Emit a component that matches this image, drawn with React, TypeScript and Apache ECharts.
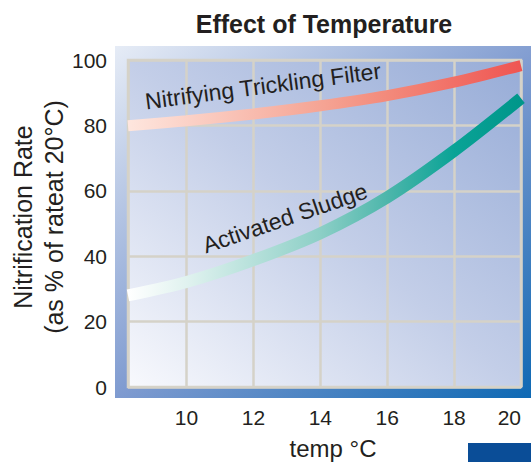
import React, { useEffect, useRef } from "react";
import * as echarts from "echarts";

const xTemps = [8.25, 10, 12, 14, 16, 18, 20];
const tricklingFilter = [79.9, 81.4, 83.5, 86, 89.1, 93.2, 98.3];
const activatedSludge = [28, 32.1, 38.8, 47, 58, 72.2, 88.3];
const yTicks = [0, 20, 40, 60, 80, 100];
const xTicks = [10, 12, 14, 16, 18, 20];

const FONT = '"Liberation Sans", Arial, Helvetica, sans-serif';
const INK = "#231f20";
const GRIDLINE = "#d5d2c8";

export default function App() {
  const ref = useRef<HTMLDivElement>(null);

  useEffect(() => {
    if (!ref.current) return;
    const chart = echarts.init(ref.current, undefined, { renderer: "svg" });
    const LG = echarts.graphic.LinearGradient;

    const option: any = {
      animation: false,
      backgroundColor: "#ffffff",
      grid: {
        left: 128,
        right: 10,
        top: 60,
        bottom: 75,
        containLabel: false,
        outerBoundsMode: "none",
        show: true,
        backgroundColor: new LG(0, 1, 1, 0, [
          { offset: 0, color: "#f8f9fd" },
          { offset: 0.5, color: "#c3cee8" },
          { offset: 1, color: "#97acd7" },
        ]),
        borderColor: GRIDLINE,
        borderWidth: 2.5,
      },
      xAxis: {
        type: "value",
        min: 8.25,
        max: 20,
        splitNumber: 6,
        name: "temp °C",
        nameLocation: "middle",
        nameGap: 49,
        nameTextStyle: {
          fontFamily: FONT,
          fontSize: 24,
          color: INK,
          padding: [0, 0, 0, 17],
        },
        axisLine: { show: false },
        axisTick: { show: false },
        axisLabel: {
          margin: 20,
          fontFamily: FONT,
          fontSize: 21,
          color: INK,
          showMinLabel: true,
          alignMaxLabel: "right",
          formatter: (v: number) => (xTicks.indexOf(v) >= 0 ? String(v) : ""),
        },
        splitLine: { show: true, lineStyle: { color: GRIDLINE, width: 2.5 } },
      },
      yAxis: {
        type: "value",
        min: 0,
        max: 100,
        interval: 20,
        axisLine: { show: false },
        axisTick: { show: false },
        axisLabel: {
          margin: 21,
          fontFamily: FONT,
          fontSize: 21,
          color: INK,
          formatter: (v: number) => (yTicks.indexOf(v) >= 0 ? String(v) : ""),
        },
        splitLine: { show: true, lineStyle: { color: GRIDLINE, width: 2.5 } },
      },
      series: [
        {
          name: "Nitrifying Trickling Filter",
          type: "line",
          smooth: 0.3,
          symbol: "none",
          z: 5,
          lineStyle: {
            width: 11,
            cap: "butt",
            color: new LG(0, 0, 1, 0, [
              { offset: 0, color: "#fee6de" },
              { offset: 0.5, color: "#f5a393" },
              { offset: 0.66, color: "#f38a7b" },
              { offset: 1, color: "#ef5552" },
            ]),
          },
          data: xTemps.map((x, i) => [x, tricklingFilter[i]]),
        },
        {
          name: "Activated Sludge",
          type: "line",
          smooth: 0.3,
          symbol: "none",
          z: 5,
          lineStyle: {
            width: 12,
            cap: "butt",
            color: new LG(0, 0, 1, 0, [
              { offset: 0, color: "#ffffff" },
              { offset: 0.15, color: "#e0f2ef" },
              { offset: 0.49, color: "#8ccfc6" },
              { offset: 0.66, color: "#4db6ab" },
              { offset: 0.83, color: "#0aa396" },
              { offset: 1, color: "#00968a" },
            ]),
          },
          data: xTemps.map((x, i) => [x, activatedSludge[i]]),
        },
      ],
      graphic: [
        {
          type: "rect",
          z: -1,
          silent: true,
          shape: { x: 115, y: 46, width: 440, height: 352 },
          style: {
            fill: new LG(0, 0, 1, 1, [
              { offset: 0, color: "#e6ecf6" },
              { offset: 0.5, color: "#7f9bd0" },
              { offset: 1, color: "#0866b2" },
            ]),
          },
        },
        {
          type: "rect",
          z: 10,
          silent: true,
          shape: { x: 468, y: 443, width: 70, height: 25 },
          style: { fill: "#0a4d97" },
        },
        {
          type: "text",
          z: 10,
          x: 324,
          y: 24,
          style: {
            text: "Effect of Temperature",
            font: `bold 25px ${FONT}`,
            fill: INK,
            align: "center",
            verticalAlign: "middle",
          },
        },
        {
          type: "text",
          z: 10,
          x: 23,
          y: 217,
          rotation: Math.PI / 2,
          style: {
            text: "Nitrification Rate",
            font: `25px ${FONT}`,
            fill: INK,
            align: "center",
            verticalAlign: "middle",
          },
        },
        {
          type: "text",
          z: 10,
          x: 54,
          y: 217,
          rotation: Math.PI / 2,
          style: {
            text: "(as % of rateat 20°C)",
            font: `25px ${FONT}`,
            fill: INK,
            align: "center",
            verticalAlign: "middle",
          },
        },
        {
          type: "text",
          z: 10,
          x: 263,
          y: 86,
          rotation: 0.13,
          style: {
            text: "Nitrifying Trickling Filter",
            font: `23px ${FONT}`,
            fill: INK,
            align: "center",
            verticalAlign: "middle",
          },
        },
        {
          type: "text",
          z: 10,
          x: 285,
          y: 218,
          rotation: 0.33,
          style: {
            text: "Activated Sludge",
            font: `23px ${FONT}`,
            fill: INK,
            align: "center",
            verticalAlign: "middle",
          },
        },
      ],
    };

    chart.setOption(option);
    return () => chart.dispose();
  }, []);

  return (
    <div
      ref={ref}
      style={{ position: "fixed", left: 0, top: 0, width: 531, height: 462 }}
    />
  );
}
